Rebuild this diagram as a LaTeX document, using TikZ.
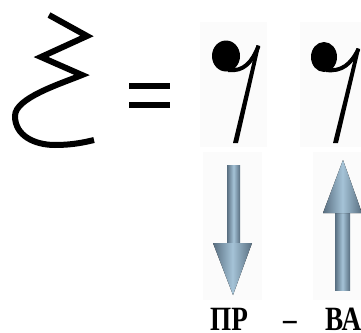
\documentclass[tikz,border=0pt]{standalone}
\usepackage{fontspec}
\setmainfont{Liberation Serif}
\newfontfamily\capfont[FakeStretch=0.8]{Liberation Serif Bold}
\begin{document}
\begin{tikzpicture}[x=1pt,y=-1pt,
  stroke/.style={line width=6pt,line cap=butt,line join=miter},
  eqbar/.style={fill=black},
  glyphbg/.style={fill=black!1.5},
  arrowfill/.style={left color=arrowdark,right color=arrowdark,middle color=arrowlight},
  lab/.style={font=\capfont\fontsize{34}{34}\selectfont,inner sep=0pt,anchor=base}]
\definecolor{arrowdark}{RGB}{88,110,128}
\definecolor{arrowlight}{RGB}{165,195,215}
\useasboundingbox (0,0) rectangle (361,332);
\fill[white] (0,0) rectangle (361,332);
% faint image backgrounds
\fill[glyphbg] (200,22) rectangle (267,147);
\fill[glyphbg] (300,22) rectangle (361,147);
\fill[glyphbg] (203,152) rectangle (262,300);
\fill[glyphbg] (313,152) rectangle (361,300);
% zigzag symbol
\draw[stroke] (49,15) -- (87,36) -- (41,57) -- (82,75)
  .. controls (60,84) and (15,98) .. (15,116)
  .. controls (15,136) and (35,145) .. (55,145)
  .. controls (70,145) and (82,143) .. (94,140);
% equals sign
\fill[eqbar] (129,83) rectangle (170,89);
\fill[eqbar] (129,102) rectangle (170,108);
% glyph 1
\fill (226,56) ellipse (14 and 15.5);
\draw[line width=4pt] (228,70) .. controls (244,72) and (252,62) .. (258.5,46);
\fill (256.5,45) -- (260,46) -- (238,143) -- (233,143) -- cycle;
% glyph 2
\fill (324,57) ellipse (13 and 15);
\draw[line width=4pt] (326,70) .. controls (342,72) and (351,64) .. (358.5,49);
\fill (356.5,48) -- (360,49) -- (338,143) -- (333,143) -- cycle;
% down arrow
\fill[arrowfill] (227,165) rectangle (240,243);
\fill[arrowfill] (213,243) -- (252,243) -- (233,295) -- cycle;
% up arrow
\fill[arrowfill] (335,213) rectangle (350,290);
\fill[arrowfill] (323,213) -- (362,213) -- (343,160) -- cycle;
% labels
\node[lab] (pr) at (229,330) {ПР};
\node[lab] (dash) at (290,330) {–};
\node[lab,anchor=base west] (va) at (325,330) {ВА};
\end{tikzpicture}
\end{document}
